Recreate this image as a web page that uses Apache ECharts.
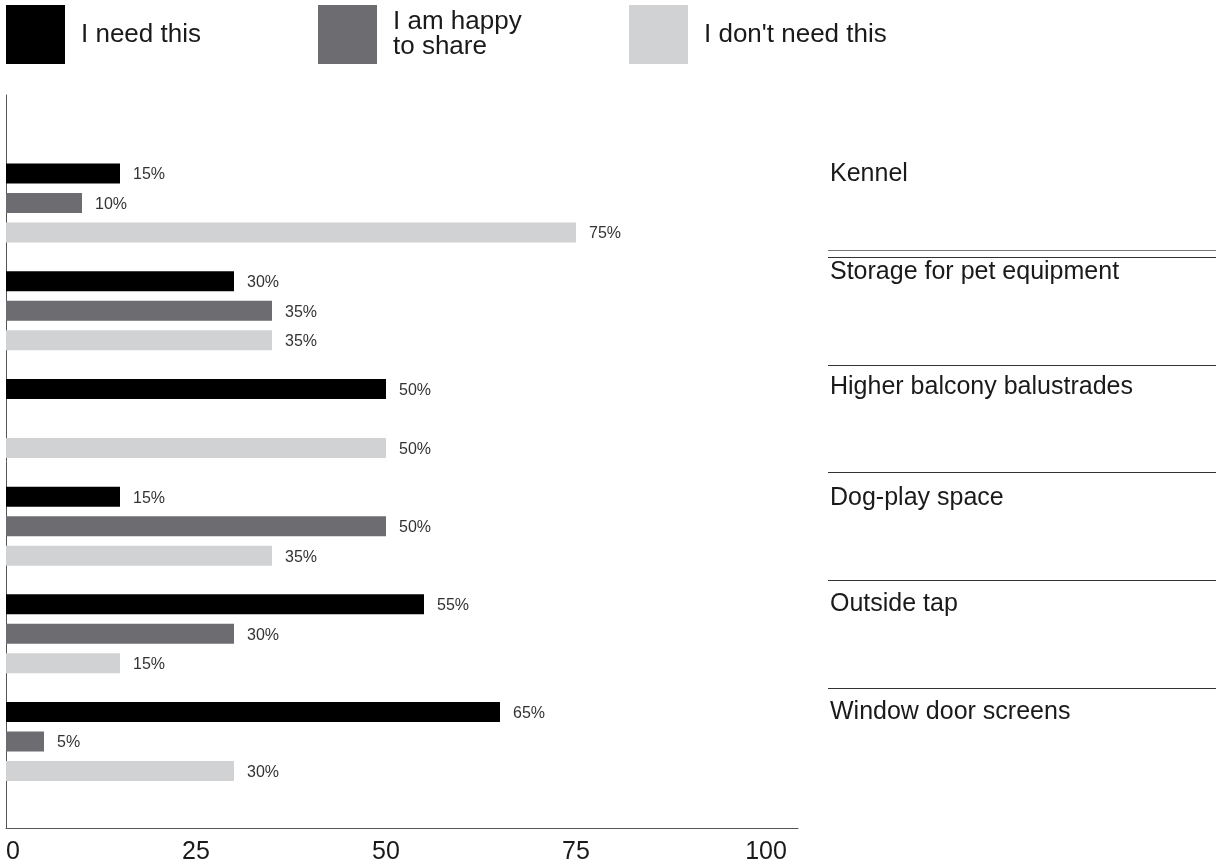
<!DOCTYPE html>
<html>
<head>
<meta charset="utf-8">
<script src="https://cdn.jsdelivr.net/npm/echarts@6/dist/echarts.min.js"></script>
<style>
html,body{margin:0;padding:0;background:#fff;}
#chart{width:1216px;height:867px;}
</style>
</head>
<body>
<div id="chart"></div>
<script>
// ---- data ----
const categories = ['Kennel', 'Storage for pet equipment', 'Higher balcony balustrades', 'Dog-play space', 'Outside tap', 'Window door screens'];
const seriesNames = ['I need this', 'I am happy to share', "I don't need this"];
const needThis = [15, 30, 50, 15, 55, 65];
const happyToShare = [10, 35, null, 50, 30, 5];
const dontNeed = [75, 35, 50, 35, 15, 30];
const xTicks = [0, 25, 50, 75, 100];
const separators = [1, 2, 3, 4, 5];

// ---- styles ----
const FONT = '"Liberation Sans", Arial, sans-serif';
const colors = ['#000000', '#6c6c71', '#d1d2d4'];
const labelShift = [29, 39, 31, 28, 30, 29];

const rich = {};
labelShift.forEach((s, i) => {
  rich['c' + i] = { fontSize: 25, fontFamily: FONT, color: '#1a1a1a', padding: [0, 0, 2 * s, 0] };
});

const chart = echarts.init(document.getElementById('chart'));

function barSeries(name, data, color) {
  return {
    type: 'bar', name, data,
    xAxisIndex: 0, yAxisIndex: 0,
    barWidth: 20, barGap: '47.5%',
    itemStyle: { color },
    label: {
      show: true, position: 'right', distance: 13, offset: [0, 1.5],
      formatter: p => p.value + '%',
      fontSize: 16, fontFamily: FONT, color: '#333'
    },
    emphasis: { disabled: true },
    animation: false
  };
}

const legendBase = {
  top: 5, padding: 0, icon: 'rect', itemWidth: 59, itemHeight: 59,
  textStyle: { fontSize: 26, fontFamily: FONT, color: '#1a1a1a', padding: [0, 0, 0, 11], lineHeight: 25 },
  selectedMode: false
};

const option = {
  backgroundColor: '#fff',
  animation: false,
  legend: [
    Object.assign({}, legendBase, { left: 6, data: [seriesNames[0]] }),
    Object.assign({}, legendBase, { left: 318, data: [seriesNames[1]], formatter: () => 'I am happy\nto share' }),
    Object.assign({}, legendBase, { left: 629, data: [seriesNames[2]] })
  ],
  grid: [
    { left: 6, width: 760, top: 149.2, height: 646.2 },   // bars
    { left: 6, width: 792, top: 95, height: 733 },        // axis frame
    { left: 828, right: 0, top: 149.2, height: 646.2 }    // category labels
  ],
  xAxis: [
    {
      gridIndex: 0, type: 'value', min: xTicks[0], max: xTicks[xTicks.length - 1], interval: 25,
      offset: 33,
      axisLine: { show: false }, axisTick: { show: false }, splitLine: { show: false },
      axisLabel: { fontSize: 25, fontFamily: FONT, color: '#1a1a1a', margin: 11, alignMinLabel: 'left' }
    },
    {
      gridIndex: 1, type: 'value', min: 0, max: 1,
      axisLine: { show: true, lineStyle: { color: '#555', width: 1 } },
      axisTick: { show: false }, axisLabel: { show: false }, splitLine: { show: false }
    },
    {
      gridIndex: 2, type: 'value', min: 0, max: 1, show: false
    }
  ],
  yAxis: [
    {
      gridIndex: 0, type: 'category', data: categories, inverse: true,
      axisLine: { show: false }, axisTick: { show: false }, axisLabel: { show: false }
    },
    {
      gridIndex: 1, type: 'value', min: 0, max: 1,
      axisLine: { show: true, lineStyle: { color: '#555', width: 1 } },
      axisTick: { show: false }, axisLabel: { show: false }, splitLine: { show: false }
    },
    {
      gridIndex: 2, type: 'category', data: categories, inverse: true,
      axisLine: { show: false }, axisTick: { show: false },
      axisLabel: {
        inside: true, margin: 2, align: 'left',
        formatter: (v, i) => '{c' + i + '|' + v + '}',
        rich
      }
    }
  ],
  series: [
    barSeries(seriesNames[0], needThis, colors[0]),
    barSeries(seriesNames[1], happyToShare, colors[1]),
    barSeries(seriesNames[2], dontNeed, colors[2]),
    {
      type: 'custom', xAxisIndex: 2, yAxisIndex: 2,
      data: separators.map(i => [0, i]),
      encode: { x: 0, y: 1 },
      silent: true,
      renderItem: function (params, api) {
        const idx = api.value(1);
        const c = api.coord([0, idx]);
        const h = api.size([0, 1])[1];
        const y = Math.round(c[1] - h / 2) + 0.5;
        const cs = params.coordSys;
        const children = [{
          type: 'line',
          shape: { x1: cs.x, y1: y, x2: cs.x + cs.width, y2: y },
          style: { stroke: '#333', lineWidth: 1 }
        }];
        if (idx === 1) {
          children.push({
            type: 'line',
            shape: { x1: cs.x, y1: y - 7, x2: cs.x + cs.width, y2: y - 7 },
            style: { stroke: '#777', lineWidth: 1 }
          });
        }
        return { type: 'group', children };
      }
    }
  ]
};
chart.setOption(option);
</script>
</body>
</html>
